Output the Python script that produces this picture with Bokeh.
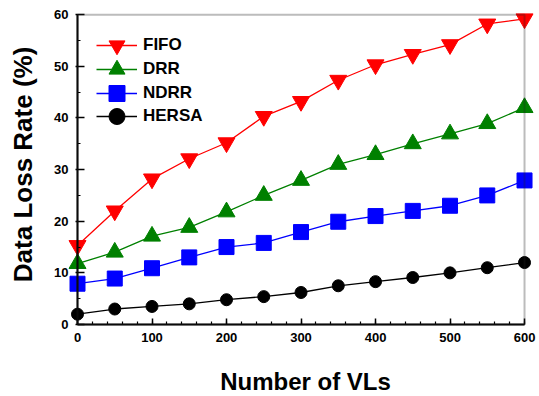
import math
from bokeh.plotting import figure
from bokeh.models import (SingleIntervalTicker, Range1d, BoxAnnotation, Label,
                          Legend, LegendItem)
from bokeh.embed import file_html
from bokeh.resources import INLINE

vls = [0, 50, 100, 150, 200, 250, 300, 350, 400, 450, 500, 550, 600]
fifo = [15.3, 22, 28.2, 32.1, 35.2, 40.3, 43.2, 47.3, 50.3, 52.3, 54.2, 58.2, 59.2]
drr = [11.8, 14, 17.1, 18.8, 21.8, 25, 27.9, 31, 32.9, 35, 36.9, 38.9, 42]
ndrr = [7.9, 8.9, 10.9, 13, 15, 15.8, 17.9, 19.9, 21, 22, 23, 25, 27.9]
hersa = [2, 3, 3.5, 4, 4.8, 5.4, 6.2, 7.5, 8.3, 9.1, 10, 11, 12]
x_ticks_step = 100
y_ticks_step = 10

FONT = "Liberation Sans"

p = figure(width=539, height=396, output_backend="svg", toolbar_location=None,
           x_range=Range1d(-100.67, 620.1), y_range=Range1d(-13.94, 61),
           min_border_left=2, min_border_right=0, min_border_top=9,
           min_border_bottom=0)
p.outline_line_color = None
p.xgrid.visible = False
p.ygrid.visible = False
p.background_fill_color = "white"

# x axis
xa = p.xaxis[0]
xa.ticker = SingleIntervalTicker(interval=x_ticks_step, num_minor_ticks=5)
xa.bounds = (0, 600)
xa.fixed_location = 0
xa.axis_line_width = 2
xa.axis_line_color = "black"
xa.major_tick_in = 6
xa.major_tick_out = 0
xa.minor_tick_in = 3
xa.minor_tick_out = 0
xa.major_tick_line_width = 1.5
xa.minor_tick_line_width = 1.2
xa.major_label_standoff = 8
xa.major_label_text_font = FONT
xa.major_label_text_font_style = "bold"
xa.major_label_text_font_size = "13px"
xa.major_label_text_color = "black"

# y axis
ya = p.yaxis[0]
ya.ticker = SingleIntervalTicker(interval=y_ticks_step, num_minor_ticks=2)
ya.bounds = (0, 60)
ya.fixed_location = 0
ya.axis_line_width = 2
ya.axis_line_color = "black"
ya.major_tick_in = 7
ya.major_tick_out = 2
ya.minor_tick_in = 3
ya.minor_tick_out = 0
ya.major_tick_line_width = 1.5
ya.minor_tick_line_width = 1.2
ya.major_label_standoff = 7
ya.major_label_text_font = FONT
ya.major_label_text_font_style = "bold"
ya.major_label_text_font_size = "13px"
ya.major_label_text_color = "black"

series = [
    ("FIFO", fifo, "#ff0000", "inverted_triangle", 17),
    ("DRR", drr, "#008000", "triangle", 17),
    ("NDRR", ndrr, "#0000ff", "square", 15),
    ("HERSA", hersa, "#000000", "circle", 12),
]
legend_bottoms = [331, 307, 283, 260]

for (name, ys, color, marker, size), vy in zip(series, legend_bottoms):
    l = p.line(vls, ys, line_color=color, line_width=1.3)
    s = p.scatter(vls, ys, marker=marker, size=size, fill_color=color,
                  line_color=color)
    lg = Legend(items=[LegendItem(label=name, renderers=[l, s])],
                location=(94, vy), padding=0, margin=0,
                border_line_color=None, background_fill_alpha=0,
                glyph_width=41, glyph_height=40, label_height=40,
                spacing=0, label_standoff=6,
                label_text_font=FONT, label_text_font_style="bold",
                label_text_font_size="17px", label_text_color="black")
    p.add_layout(lg, "center")

box = BoxAnnotation(left=0, right=600, bottom=0, top=60, fill_alpha=0,
                    line_color="#222222", line_width=2)
p.add_layout(box)

ylab = Label(x=-73.8, y=31, text="Data Loss Rate (%)", angle=math.pi / 2,
             text_align="center", text_baseline="middle",
             text_font=FONT, text_font_style="bold", text_font_size="26px",
             text_color="black")
p.add_layout(ylab)

xlab = Label(x=306, y=-11.04, text="Number of VLs",
             text_align="center", text_baseline="middle",
             text_font=FONT, text_font_style="bold", text_font_size="24px",
             text_color="black")
p.add_layout(xlab)

open("out.html", "w").write(file_html(p, INLINE))
